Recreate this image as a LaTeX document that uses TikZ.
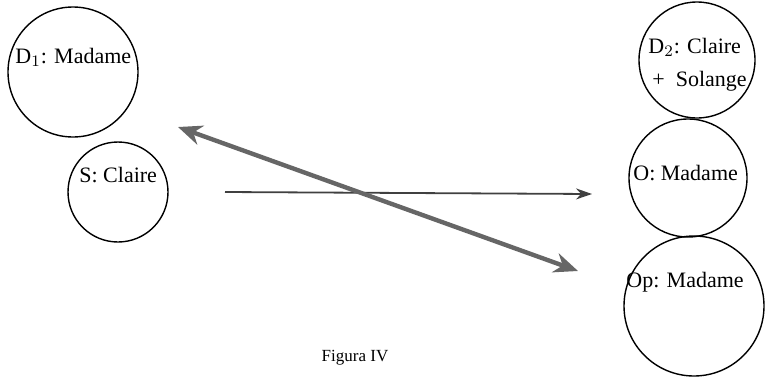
\documentclass[tikz,border=0pt]{standalone}
\usepackage{fontspec}
\setmainfont{Liberation Serif}
\usetikzlibrary{arrows.meta}
\begin{document}
\begin{tikzpicture}[
  x=0.5pt, y=-0.5pt,
  font=\fontsize{11}{13}\selectfont,
  actant/.style={draw, circle, line width=0.7pt, inner sep=0pt},
  lbl/.style={anchor=base west, inner sep=0pt},
  arr/.style={-{Stealth[length=8pt, width=5.5pt]}, line width=0.9pt, black!75},
  darr/.style={{Stealth[length=12pt, width=10pt]}-{Stealth[length=12pt, width=10pt]},
               line width=2.2pt, black!60}
]
  \useasboundingbox (0,0) rectangle (766,376);

  %% actants, left side
  \node[actant, minimum size=65pt] (d1) at (73, 72) {};
  \node[actant, minimum size=50pt] (s) at (118, 192) {};
  %% actants, right side
  \node[actant, minimum size=58pt] (d2) at (697, 60) {};
  \node[actant, minimum size=59pt] (o) at (688, 178) {};
  \node[actant, minimum size=70pt] (op) at (694, 306) {};

  \node[lbl] (d1l) at (15, 63) {D$_1$: Madame};
  \node[lbl] (sl) at (79, 182) {S: Claire};
  \node[lbl] (d2l) at (648, 53) {D$_2$: Claire};
  \node[lbl] (d2m) at (652, 86) {+\ \ Solange};
  \node[lbl] (ol) at (633, 180) {O: Madame};
  \node[lbl] (opl) at (626, 287) {Op: Madame};

  %% free ends of the two arrows
  \coordinate (hs) at (225, 192);
  \coordinate (he) at (592, 194);
  \coordinate (xs) at (178, 127);
  \coordinate (xe) at (578, 271);

  \draw[arr] (hs) -- (he);
  \draw[darr] (xs) -- (xe);

  \node[font=\fontsize{8.5}{10}\selectfont, anchor=base] (cap) at (355, 361) {Figura IV};
\end{tikzpicture}
\end{document}
